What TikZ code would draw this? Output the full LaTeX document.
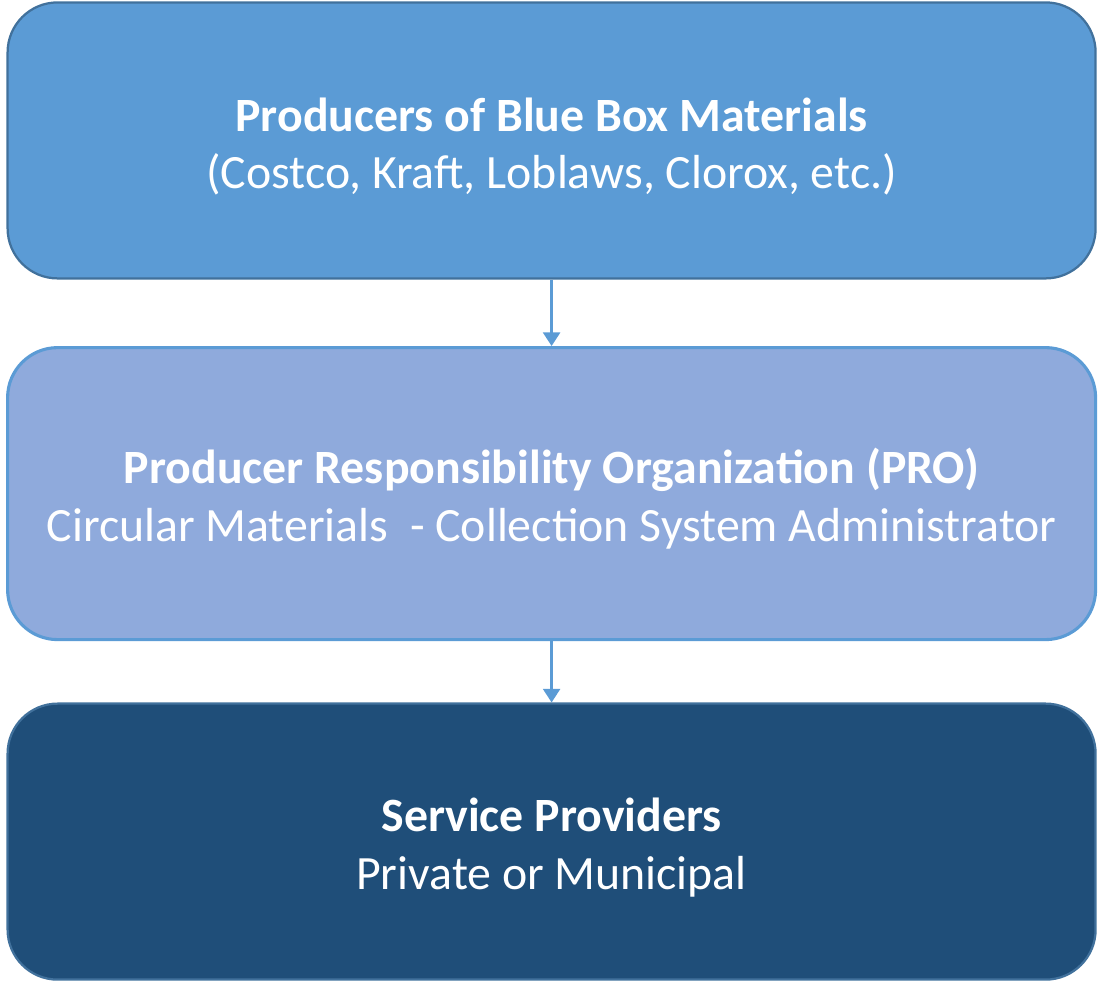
\documentclass[tikz,border=0pt]{standalone}
\usepackage{fontspec}
\setmainfont{Carlito}
\usepackage{xcolor}
\usepackage{tikz}
\usetikzlibrary{positioning,arrows.meta}

\definecolor{boxblue}{HTML}{5B9BD5}
\definecolor{boxedge}{HTML}{41719C}
\definecolor{boxlight}{HTML}{8FAADC}
\definecolor{boxdark}{HTML}{1F4E79}

% taller first line, so the text sits a bit lower in its box
\newcommand{\toprow}{\rule{0pt}{1.15cm}}

\tikzset{
  tier/.style={draw, line width=1.6pt, rounded corners=1.25cm, minimum width=27.2cm,
    align=center, text=white, font=\fontsize{34}{41}\selectfont},
  flow/.style={draw=boxblue, line width=2.1pt, -{Triangle[width=0.42cm,length=0.34cm]}}
}

\begin{document}
\begin{tikzpicture}
\useasboundingbox (0,0) rectangle (27.45,-24.55);
\node[tier, fill=boxblue, draw=boxedge, minimum height=6.9cm] (producers) at (13.79,-3.51)
    {\toprow\textbf{Producers of Blue Box Materials}\\(Costco, Kraft, Loblaws, Clorox, etc.)};
\node[tier, fill=boxlight, draw=boxblue, line width=2.2pt, minimum height=7.3cm] (pro) at (13.79,-12.34)
    {\toprow\textbf{Producer Responsibility Organization (PRO)}\\Circular Materials~ - Collection System Administrator};
\node[tier, fill=boxdark, draw=boxedge, minimum height=6.9cm] (providers) at (13.79,-21.04)
    {\toprow\textbf{Service Providers}\\Private or Municipal};
% links between the tiers
\draw[flow] (producers) -- (pro);
\draw[flow] (pro) -- (providers);
\end{tikzpicture}
\end{document}
